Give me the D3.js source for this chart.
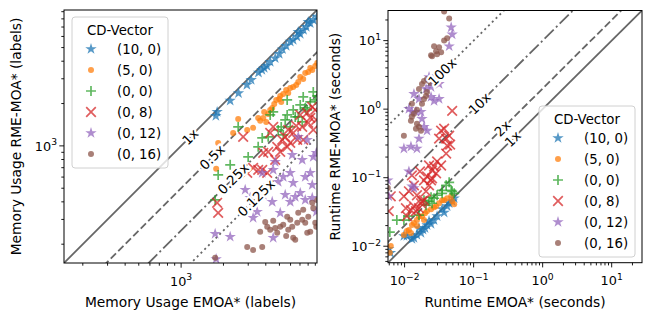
<!DOCTYPE html>
<html><head><meta charset="utf-8">
<script src="https://cdn.jsdelivr.net/npm/d3@7"></script>
<style>body{margin:0;background:#fff} text{font-family:"DejaVu Sans",sans-serif}</style>
</head><body><svg id="c" width="651" height="321"></svg>
<script>
// ---------------- DATA ----------------
const seriesNames = ["(10, 0)", "(5, 0)", "(0, 0)", "(0, 8)", "(0, 12)", "(0, 16)"];
const seriesColors = ["#1f77b4", "#ff7f0e", "#2ca02c", "#d62728", "#9467bd", "#8c564b"];
const seriesMarkers = ["star", "dot", "plus", "cross", "star", "dot"];

// Memory usage (labels): [EMOA*, RME-MOA*]
const mem_10_0 = [[1766,1633],[1804,1745],[2232,2099],[2558,2369],[2935,2714],[3150,2944],[3548,3319],[3751,3467],[3896,3584],[4074,3704],[4300,3954],[4667,4200],[4983,4508],[5260,4864],[5585,5140],[5970,5510],[6266,5665],[6660,5980],[6805,6457],[7030,6252],[7420,6675],[7760,7012],[8015,7608],[8280,7450],[8703,7863],[9245,8300]];
const mem_5_0 = [[1834,1050],[1775,687],[2344,1237],[2545,1556],[2951,1299],[3251,1343],[3532,1581],[3648,1506],[3837,1581],[3896,1744],[4027,1481],[4159,1688],[4299,1803],[4443,1862],[4592,1989],[4745,2123],[4984,2158],[5066,2265],[5150,2054],[5321,2343],[5585,2500],[5776,2381],[5970,2583],[6266,2626],[6583,2714],[6804,2851],[7031,3092],[7381,2993],[7630,3303],[8017,3357],[8284,3583],[8556,3467],[8990,3704],[9290,3890]];
const mem_0_0 = [[1746,413],[1834,622],[2233,733],[2545,1365],[2998,835],[3532,984],[3772,1140],[4159,1159],[4299,1661],[4517,1744],[4900,1299],[5150,1365],[5321,1197],[5497,1530],[5676,2123],[5676,1661],[5970,1365],[6266,1803],[6476,1607],[6804,1607],[7031,1955],[7263,1481],[7381,2229],[7630,1862],[7883,1803],[8284,2054],[8703,2420],[8990,2123],[9290,2265]];
const mem_0_8 = [[1804,394],[1834,334],[2762,1159],[2951,643],[3251,698],[3532,675],[3772,675],[3837,892],[4093,643],[4159,906],[4299,1237],[4517,1365],[4667,795],[4822,984],[5066,906],[5234,1103],[5497,1159],[5676,984],[5776,1299],[5970,1050],[6266,1237],[6583,1387],[6694,1103],[7031,1661],[7263,1365],[7381,1103],[7883,1716],[8017,1457],[8284,1581],[8556,1893],[8703,1299],[8990,1803],[9141,1530]];
const mem_0_12 = [[1746,237],[1775,157],[2233,226],[2855,487],[3097,427],[3251,308],[3475,340],[3772,643],[3837,449],[4159,528],[4443,400],[4517,675],[4517,222],[4667,770],[4900,555],[5066,334],[5321,602],[5497,449],[5970,643],[5970,400],[6166,863],[6266,546],[6476,434],[6804,1159],[7031,463],[7263,795],[7630,602],[7630,413],[7883,1103],[8284,643],[8556,528],[8556,427],[8703,835],[9141,892],[9141,340]];
const mem_0_16 = [[1746,160],[2951,191],[3251,182],[3648,245],[3772,191],[3963,288],[4093,266],[4299,253],[4517,293],[4667,261],[4822,241],[5066,266],[5321,275],[5585,229],[5676,313],[5776,253],[5970,298],[6166,266],[6266,222],[6476,215],[6694,284],[6804,334],[7263,298],[7381,351],[7630,284],[7883,241],[8017,313],[8284,245],[8556,394],[8703,362],[8990,284],[9141,266],[9290,413]];

// Runtime (seconds): [EMOA*, RME-MOA*]
const rt_10_0 = [[0.00625,0.0080],[0.0059,0.00914],[0.00977,0.0141],[0.0108,0.0141],[0.01277,0.01276],[0.01366,0.0132],[0.0151,0.0146],[0.01616,0.0184],[0.01729,0.0156],[0.01848,0.0174],[0.01977,0.0184],[0.02113,0.02036],[0.0226,0.02328],[0.02417,0.0211],[0.02673,0.0240],[0.02955,0.02749],[0.03497,0.03474],[0.0374,0.031],[0.04136,0.0384],[0.0442,0.0424],[0.0489,0.0453],[0.0523,0.0501]];
const rt_5_0 = [[0.00611,0.0080],[0.00631,0.0101],[0.00977,0.0146],[0.0108,0.01667],[0.01155,0.01722],[0.01236,0.0156],[0.01277,0.02036],[0.01366,0.02178],[0.0151,0.02404],[0.0151,0.01968],[0.01616,0.02749],[0.01786,0.02749],[0.0191,0.02404],[0.01977,0.0304],[0.02113,0.03243],[0.02417,0.03474],[0.02673,0.03712],[0.02859,0.0384],[0.0316,0.0424],[0.03497,0.04688],[0.0374,0.04688],[0.04136,0.0501],[0.0473,0.0535],[0.0489,0.0453],[0.0523,0.041]];
const rt_0_0 = [[0.00611,0.0161],[0.00772,0.02404],[0.00977,0.02404],[0.01155,0.02749],[0.01616,0.02844],[0.0191,0.04688],[0.02045,0.0397],[0.0226,0.0453],[0.02417,0.0518],[0.0250,0.0424],[0.02673,0.0501],[0.02955,0.0554],[0.03497,0.0654],[0.03497,0.0592],[0.04,0.0773],[0.04424,0.0855],[0.0473,0.0654],[0.0489,0.0633],[0.0523,0.0592]];
const rt_0_8 = [[0.0059,0.0325],[0.00631,0.0535],[0.00977,0.0535],[0.01045,0.0359],[0.0108,0.02749],[0.01155,0.0633],[0.01236,0.0336],[0.01277,0.108],[0.01366,0.0384],[0.01366,0.0773],[0.0146,0.0325],[0.0151,0.0554],[0.01616,0.0359],[0.0167,0.1234],[0.01729,0.0424],[0.01786,0.0453],[0.0191,0.0914],[0.0191,0.04688],[0.02045,0.0633],[0.02113,0.1045],[0.0226,0.0773],[0.0226,0.1507],[0.02417,0.0914],[0.025,0.0977],[0.025,0.1276],[0.02673,0.1457],[0.02859,0.1154],[0.02955,0.1722],[0.0316,0.371],[0.0338,0.1507],[0.0338,0.485],[0.0374,0.518],[0.04,0.225],[0.04,0.371],[0.04136,0.294],[0.04424,0.41],[0.0457,0.304],[0.0489,0.944]];
const rt_0_12 = [[0.00571,0.0914],[0.0059,0.0535],[0.00977,0.266],[0.01155,0.1234],[0.01277,0.0748],[0.01155,1.01],[0.01236,0.284],[0.01366,1.666],[0.01366,0.0705],[0.01277,0.914],[0.0146,0.914],[0.0151,0.266],[0.01616,1.41],[0.01616,0.371],[0.01729,0.914],[0.01786,0.723],[0.0191,0.554],[0.02113,0.485],[0.02045,1.97],[0.0226,2.94],[0.02417,1.507],[0.02417,2.10],[0.02673,2.75],[0.02673,1.319],[0.02955,3.04],[0.0316,1.41],[0.0316,2.33],[0.04424,8.27],[0.0473,15.6],[0.0489,12.3]];
const rt_0_16 = [[0.00571,0.0705],[0.00977,0.41],[0.01236,0.677],[0.01277,0.773],[0.01366,0.855],[0.0151,0.612],[0.01616,0.554],[0.01729,0.485],[0.0146,0.518],[0.0151,0.977],[0.01277,1.194],[0.01786,1.194],[0.0191,1.41],[0.02045,1.56],[0.02113,1.78],[0.01616,1.97],[0.01786,2.33],[0.0191,2.57],[0.02113,2.75],[0.0226,2.57],[0.02417,2.41],[0.02673,2.57],[0.02417,6.12],[0.025,5.92],[0.02673,8.27],[0.02859,7.0],[0.02955,6.33],[0.0316,8.0],[0.0338,6.76],[0.0374,10.0],[0.04136,10.8],[0.04424,21.0],[0.0374,26.5]];

const memSeries = [mem_10_0, mem_5_0, mem_0_0, mem_0_8, mem_0_12, mem_0_16];
const rtSeries = [rt_10_0, rt_5_0, rt_0_0, rt_0_8, rt_0_12, rt_0_16];

// axis domains, ticks and labels
const memDomain = [147, 9250];
const rtDomain = [0.00575, 27.5];
const memMajorTicks = [1000];
const memMajorExp = ["3"];
const rtMajorTicks = [0.01, 0.1, 1, 10];
const rtMajorExp = ["\u22122", "\u22121", "0", "1"];

// reference ratio lines
const memRatios = [1, 0.5, 0.25, 0.125];
const memRatioLabels = ["1x", "0.5x", "0.25x", "0.125x"];
const memRatioLabelAt = [1159, 1662, 2344, 3420];
const rtRatios = [1, 2, 10, 100];
const rtRatioLabels = ["1x", "2x", "10x", "100x"];
const rtRatioLabelAt = [0.368, 0.262, 0.121, 0.0349];
const ratioDash = [null, "7.4,3.2", "12.8,3.2,2,3.2", "2,3.3"];

const xLabels = ["Memory Usage EMOA* (labels)", "Runtime EMOA* (seconds)"];
const yLabels = ["Memory Usage RME-MOA* (labels)", "Runtime RME-MOA* (seconds)"];

// ---------------- DRAW ----------------
const svg = d3.select("#c");
svg.append("rect").attr("width", 651).attr("height", 321).attr("fill", "#fff");

function starPath(r) {
  const pts = [];
  for (let i = 0; i < 10; i++) {
    const a = -Math.PI / 2 + i * Math.PI / 5;
    const rr = i % 2 ? r * 0.381966 : r;
    pts.push([(rr * Math.cos(a)).toFixed(2), (rr * Math.sin(a)).toFixed(2)]);
  }
  return "M" + pts.map(p => p.join(",")).join("L") + "Z";
}
function drawMarker(g, type, color, x, y) {
  const op = 0.75;
  if (type === "star") {
    g.append("path").attr("d", starPath(6)).attr("transform", `translate(${x},${y})`)
      .attr("fill", color).attr("fill-opacity", op);
  } else if (type === "dot") {
    g.append("circle").attr("cx", x).attr("cy", y).attr("r", 3).attr("fill", color).attr("fill-opacity", op);
  } else if (type === "plus") {
    g.append("path").attr("d", `M${x-5},${y}H${x+5}M${x},${y-5}V${y+5}`)
      .attr("stroke", color).attr("stroke-width", 1.7).attr("stroke-opacity", op).attr("fill", "none");
  } else if (type === "cross") {
    g.append("path").attr("d", `M${x-4.8},${y-4.8}L${x+4.8},${y+4.8}M${x-4.8},${y+4.8}L${x+4.8},${y-4.8}`)
      .attr("stroke", color).attr("stroke-width", 1.7).attr("stroke-opacity", op).attr("fill", "none");
  }
}

function minorTicks(domain) {
  const out = [];
  const k0 = Math.floor(Math.log10(domain[0])), k1 = Math.ceil(Math.log10(domain[1]));
  for (let k = k0; k <= k1; k++) for (let m = 2; m <= 9; m++) {
    const v = m * Math.pow(10, k);
    if (v >= domain[0] && v <= domain[1]) out.push(v);
  }
  return out;
}

function panel(opt) {
  const {x0, x1, y0, y1, domain, series, majors, exps, ratios, rlabels, rlabelAt, xlab, ylab, legend, idx} = opt;
  const x = d3.scaleLog().domain(domain).range([x0, x1]);
  const y = d3.scaleLog().domain(domain).range([y1, y0]);
  const g = svg.append("g");
  const clipId = "clip" + idx;
  svg.append("clipPath").attr("id", clipId).append("rect")
    .attr("x", x0).attr("y", y0).attr("width", x1 - x0).attr("height", y1 - y0);
  const plot = g.append("g").attr("clip-path", `url(#${clipId})`);

  // ratio lines
  ratios.forEach((r, i) => {
    const lo = domain[0] / 10, hi = domain[1] * 10;
    plot.append("line").attr("x1", x(lo)).attr("y1", y(lo * r)).attr("x2", x(hi)).attr("y2", y(hi * r))
      .attr("stroke", "#555").attr("stroke-opacity", 0.9).attr("stroke-width", 1.8)
      .attr("stroke-dasharray", ratioDash[i]);
  });

  // points
  series.forEach((s, si) => {
    const sg = plot.append("g");
    s.forEach(d => drawMarker(sg, seriesMarkers[si], seriesColors[si], x(d[0]), y(d[1])));
  });

  // ratio labels
  const lr = Math.log10(domain[1] / domain[0]);
  const angle = -Math.atan2((y1 - y0) / lr, (x1 - x0) / lr) * 180 / Math.PI;
  ratios.forEach((r, i) => {
    const px = x(rlabelAt[i]), py = y(rlabelAt[i] * r);
    g.append("text").attr("transform", `translate(${px},${py}) rotate(${angle})`)
      .attr("text-anchor", "middle").attr("dy", "0.36em").attr("font-size", 13.3)
      .attr("fill", "#000").attr("stroke", "#fff").attr("stroke-width", 4.5)
      .attr("paint-order", "stroke").attr("stroke-linejoin", "round").text(rlabels[i]);
  });

  // axes
  const minors = minorTicks(domain);
  const ax = g.append("g").attr("stroke", "#000").attr("stroke-width", 0.9);
  minors.forEach(v => {
    ax.append("line").attr("x1", x(v)).attr("x2", x(v)).attr("y1", y1).attr("y2", y1 + 2.7);
    ax.append("line").attr("y1", y(v)).attr("y2", y(v)).attr("x1", x0).attr("x2", x0 - 2.7);
  });
  majors.forEach((v, i) => {
    ax.append("line").attr("x1", x(v)).attr("x2", x(v)).attr("y1", y1).attr("y2", y1 + 4.7);
    ax.append("line").attr("y1", y(v)).attr("y2", y(v)).attr("x1", x0).attr("x2", x0 - 4.7);
    const tx = g.append("text").attr("x", x(v)).attr("y", y1 + 22.5).attr("text-anchor", "middle").attr("font-size", 12.8);
    tx.append("tspan").text("10");
    tx.append("tspan").attr("dy", -5.5).attr("font-size", 9.2).text(exps[i]);
    const ty = g.append("text").attr("x", x0 - 7).attr("y", y(v) + 4.8).attr("text-anchor", "end").attr("font-size", 12.8);
    ty.append("tspan").text("10");
    ty.append("tspan").attr("dy", -5.5).attr("font-size", 9.2).text(exps[i]);
  });
  g.append("rect").attr("x", x0).attr("y", y0).attr("width", x1 - x0).attr("height", y1 - y0)
    .attr("fill", "none").attr("stroke", "#000").attr("stroke-width", 1);

  g.append("text").attr("x", (x0 + x1) / 2).attr("y", 307).attr("text-anchor", "middle").attr("font-size", 13.8).text(xlab);
  g.append("text").attr("transform", `translate(${legend.ylabX},${(y0 + y1) / 2}) rotate(-90)`)
    .attr("text-anchor", "middle").attr("font-size", 13.8).text(ylab);

  // legend
  const L = g.append("g");
  L.append("rect").attr("x", legend.x).attr("y", legend.y).attr("width", 96).attr("height", 151).attr("rx", 3)
    .attr("fill", "#fff").attr("fill-opacity", 0.8).attr("stroke", "#d0d0d0").attr("stroke-width", 1);
  L.append("text").attr("x", legend.x + 48).attr("y", legend.y + 17.5).attr("text-anchor", "middle")
    .attr("font-size", 13.3).text("CD-Vector");
  seriesNames.forEach((n, i) => {
    const cy = legend.y + 32 + i * 21;
    drawMarker(L, seriesMarkers[i], seriesColors[i], legend.x + 19, cy);
    L.append("text").attr("x", legend.x + 45).attr("y", cy + 5).attr("font-size", 13.3).text(n);
  });
}

panel({idx: 0, x0: 64, x1: 317, y0: 10, y1: 263, domain: memDomain, series: memSeries,
  majors: memMajorTicks, exps: memMajorExp, ratios: memRatios, rlabels: memRatioLabels, rlabelAt: memRatioLabelAt,
  xlab: xLabels[0], ylab: yLabels[0], legend: {x: 72, y: 17, ylabX: 21}});
panel({idx: 1, x0: 388, x1: 642, y0: 10.5, y1: 262.7, domain: rtDomain, series: rtSeries,
  majors: rtMajorTicks, exps: rtMajorExp, ratios: rtRatios, rlabels: rtRatioLabels, rlabelAt: rtRatioLabelAt,
  xlab: xLabels[1], ylab: yLabels[1], legend: {x: 539, y: 106, ylabX: 340}});
</script></body></html>
